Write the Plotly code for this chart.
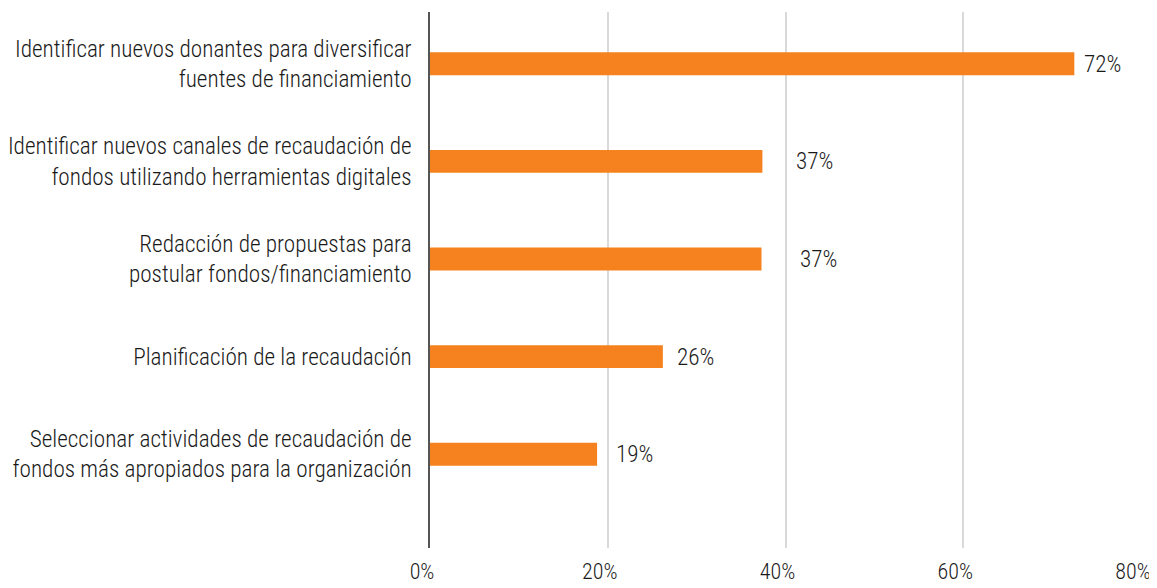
import plotly.graph_objects as go

categories = [
    "Identificar nuevos donantes para diversificar<br>fuentes de financiamiento",
    "Identificar nuevos canales de recaudación de<br>fondos utilizando herramientas digitales",
    "Redacción de propuestas para<br>postular fondos/financiamiento",
    "Planificación de la recaudación",
    "Seleccionar actividades de recaudación de<br>fondos más apropiados para la organización",
]
values = [72.5, 37.4, 37.3, 26.2, 18.8]
value_labels = ["72%", "37%", "37%", "26%", "19%"]
label_shift = [8, 32, 36, 12, 17]
x_ticks = [0, 20, 40, 60, 80]
x_tick_labels = ["0%", "20%", "40%", "60%", "80%"]

FONT = "Roboto Condensed, Liberation Sans Narrow, sans-serif"
ORANGE = "#F5821F"
TXT = "#1a1a1a"
FS = 23.2

fig = go.Figure()
fig.add_trace(go.Bar(
    x=values,
    y=categories,
    orientation="h",
    marker=dict(color=ORANGE, line=dict(width=0)),
    width=0.235,
    hoverinfo="skip",
))

for cat, v, lab, sh in zip(categories, values, value_labels, label_shift):
    fig.add_annotation(
        x=v, y=cat, text=lab, showarrow=False,
        xanchor="left", yanchor="middle", xshift=sh,
        font=dict(family=FONT, size=FS, color=TXT, weight=300),
    )

# page body has an 8px default margin, so the figure is sized/offset to compensate
fig.update_layout(
    width=1149, height=580,
    margin=dict(l=422, r=16, t=4, b=40),
    paper_bgcolor="white", plot_bgcolor="white",
    showlegend=False,
    font=dict(family=FONT, size=FS, color=TXT, weight=300),
    xaxis=dict(
        range=[0, 80],
        tickvals=x_ticks, ticktext=x_tick_labels,
        showgrid=True, gridcolor="#d9d9d9", gridwidth=1.5,
        zeroline=False, showline=False, ticks="",
        ticklabelstandoff=8,
        ticklabelshift=-8,
        ticklabeloverflow="allow",
        tickfont=dict(family=FONT, size=22, color=TXT, weight=300),
        automargin=False,
        fixedrange=True,
    ),
    yaxis=dict(
        type="category",
        categoryorder="array", categoryarray=categories,
        range=[4.96, -0.53],
        showgrid=False, zeroline=False,
        showline=True, linecolor="#555555", linewidth=1.5,
        ticks="", ticklabelstandoff=12,
        tickfont=dict(family=FONT, size=FS, color=TXT, weight=300),
        automargin=False,
        fixedrange=True,
    ),
)

fig.write_html("out.html")
